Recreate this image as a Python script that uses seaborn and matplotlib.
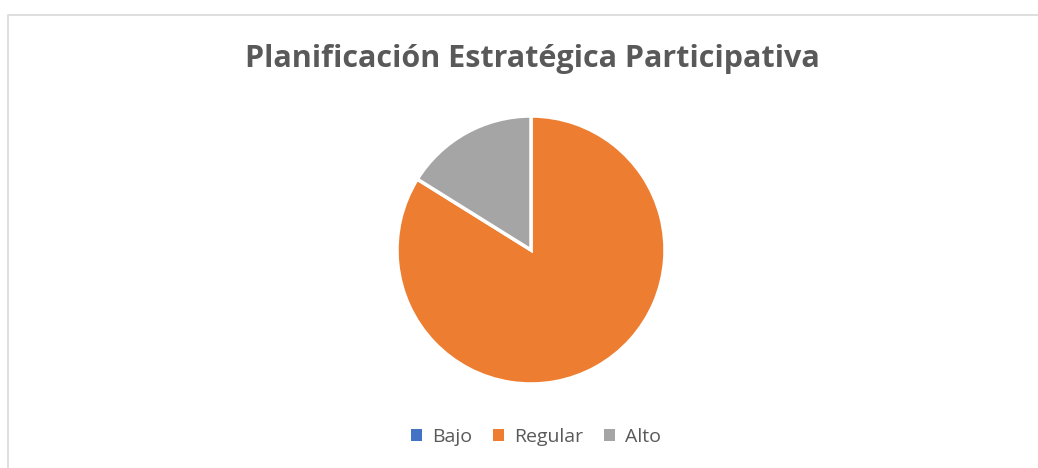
import matplotlib
matplotlib.use("Agg")
import matplotlib.pyplot as plt
import seaborn as sns
from matplotlib.patches import Rectangle, Patch

categories = ["Bajo", "Regular", "Alto"]
values = [0, 26, 5]
colors = ["#4472C4", "#ED7D31", "#A5A5A5"]

sns.set_theme(style="white")
plt.rcParams['font.family'] = ['Open Sans', 'DejaVu Sans']

W, H = 1038, 468
fig = plt.figure(figsize=(W / 100, H / 100), dpi=100)
fig.patch.set_facecolor("white")

# chart frame (right/bottom edges are cut off in the original)
fig.patches.append(Rectangle((8 / W, -0.1), 1.2, 1 - 15 / H + 0.1,
                             transform=fig.transFigure, fill=False,
                             edgecolor="#D9D9D9", linewidth=1.2))

# pie axes: center (531,250), radius 134 px
r = 134
ax = fig.add_axes([(531 - r) / W, (H - 250 - r) / H, 2 * r / W, 2 * r / H])
ax.pie(values, colors=colors, startangle=90, counterclock=False,
       wedgeprops=dict(edgecolor="white", linewidth=2.5))
ax.set_aspect("equal")
ax.set_xlim(-1, 1)
ax.set_ylim(-1, 1)

fig.text(532 / W, 1 - 59 / H, "Planificación Estratégica Participativa",
         ha="center", va="center", fontsize=22, fontweight="bold", color="#595959")

handles = [Patch(facecolor=c, edgecolor="none") for c in colors]
fig.legend(handles, categories, loc="center", bbox_to_anchor=(536 / W, 1 - 437 / H),
           ncol=3, frameon=False, fontsize=14, handlelength=0.55, handleheight=0.55,
           handletextpad=0.5, columnspacing=1.1, labelcolor="#595959")

fig.savefig("out.png", dpi=100, facecolor="white")
